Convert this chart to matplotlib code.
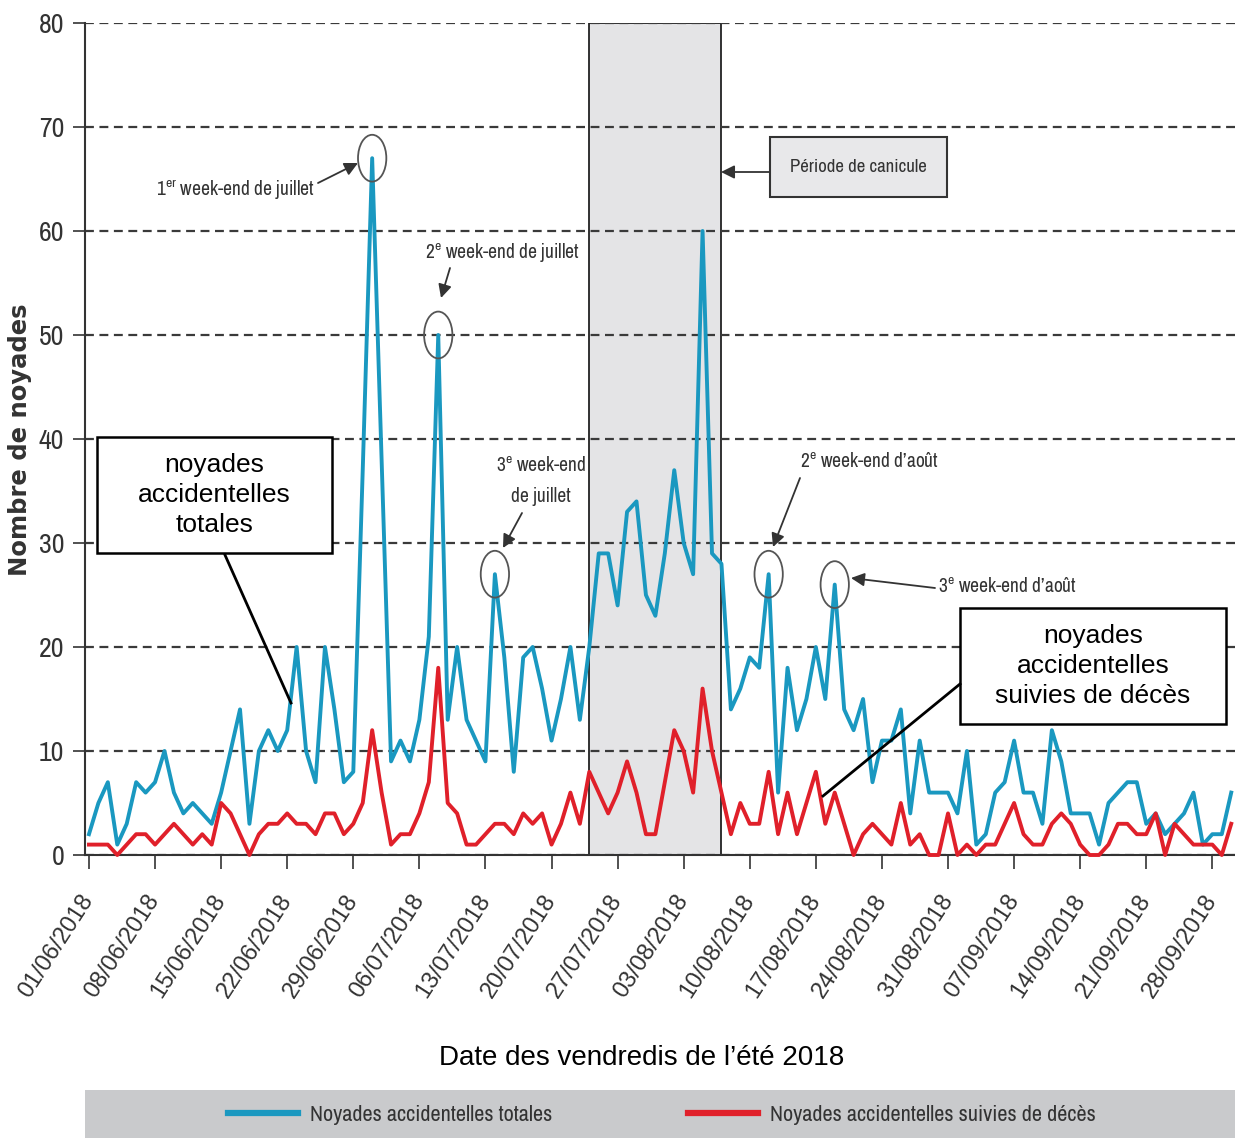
import matplotlib
matplotlib.use('Agg')
import matplotlib.pyplot as plt
import matplotlib.dates as mdates
from matplotlib.patches import Ellipse, Rectangle
from matplotlib.lines import Line2D
from matplotlib import font_manager
import pandas as pd

# données : une valeur par jour, du 01/06 au 30/09/2018
totales = [2, 5, 7, 1, 3, 7, 6, 7, 10, 6,
           4, 5, 4, 3, 6, 10, 14, 3, 10, 12,
           10, 12, 20, 10, 7, 20, 14, 7, 8, 37,
           67, 38, 9, 11, 9, 13, 21, 50, 13, 20,
           13, 11, 9, 27, 19, 8, 19, 20, 16, 11,
           15, 20, 13, 20, 29, 29, 24, 33, 34, 25,
           23, 29, 37, 30, 27, 60, 29, 28, 14, 16,
           19, 18, 27, 6, 18, 12, 15, 20, 15, 26,
           14, 12, 15, 7, 11, 11, 14, 4, 11, 6,
           6, 6, 4, 10, 1, 2, 6, 7, 11, 6,
           6, 3, 12, 9, 4, 4, 4, 1, 5, 6,
           7, 7, 3, 4, 2, 3, 4, 6, 1, 2,
           2, 6]
deces = [1, 1, 1, 0, 1, 2, 2, 1, 2, 3,
         2, 1, 2, 1, 5, 4, 2, 0, 2, 3,
         3, 4, 3, 3, 2, 4, 4, 2, 3, 5,
         12, 6, 1, 2, 2, 4, 7, 18, 5, 4,
         1, 1, 2, 3, 3, 2, 4, 3, 4, 1,
         3, 6, 3, 8, 6, 4, 6, 9, 6, 2,
         2, 7, 12, 10, 6, 16, 10, 6, 2, 5,
         3, 3, 8, 2, 6, 2, 5, 8, 3, 6,
         3, 0, 2, 3, 2, 1, 5, 1, 2, 0,
         0, 4, 0, 1, 0, 1, 1, 3, 5, 2,
         1, 1, 3, 4, 3, 1, 0, 0, 1, 3,
         3, 2, 2, 4, 0, 3, 2, 1, 1, 1,
         0, 3]
canicule = ['2018-07-24', '2018-08-07']
week_ends = ['2018-07-01', '2018-07-08', '2018-07-14', '2018-08-12', '2018-08-19']

jours = pd.date_range('2018-06-01', periods=len(totales), freq='D')
vendredis = pd.date_range('2018-06-01', '2018-09-28', freq='7D')

# police étroite si disponible
noms = {f.name for f in font_manager.fontManager.ttflist}
etroit = 'Liberation Sans'
for n in ['Archivo Narrow', 'Liberation Sans Narrow', 'Asap Condensed']:
    if n in noms:
        etroit = n
        break
plt.rcParams['font.family'] = ['Liberation Sans', 'DejaVu Sans']
plt.rcParams['mathtext.fontset'] = 'custom'
plt.rcParams['mathtext.rm'] = etroit

W, H = 1235, 1138
fig = plt.figure(figsize=(W / 100, H / 100), dpi=100)
ax = fig.add_axes([85 / W, 1 - 855 / H, 1150 / W, 832 / H])

def fx(px):
    return px / W

def fy(py):
    return 1 - py / H

def P(px, py):
    return (px, H - py)

bleu = '#1a98c0'
rouge = '#e0202a'
gris = '#333333'

ax.axvspan(pd.Timestamp(canicule[0]), pd.Timestamp(canicule[1]), facecolor='#e4e4e6',
           edgecolor='#222222', lw=1.3, zorder=1)
l1, = ax.plot(jours, totales, color=bleu, lw=2.8, zorder=3, clip_on=False,
              label='Noyades accidentelles totales')
l2, = ax.plot(jours, deces, color=rouge, lw=2.8, zorder=3, clip_on=False,
              label='Noyades accidentelles suivies de décès')

# cercles autour des pics de week-end
for d in week_ends:
    i = list(jours).index(pd.Timestamp(d))
    ax.add_patch(Ellipse((mdates.date2num(jours[i]), totales[i]), width=3.0, height=4.5,
                         fill=False, edgecolor='#555555', lw=1.3, zorder=4))

debut = mdates.date2num(jours[0])
ax.set_xlim(debut - 0.42, debut + 121.4)
ax.set_ylim(0, 80)
ax.set_yticks(range(0, 81, 10))
ax.set_xticks(vendredis)
ax.xaxis.set_major_formatter(mdates.DateFormatter('%d/%m/%Y'))
for lab in ax.get_xticklabels():
    lab.set_rotation(57)
    lab.set_ha('right')
    lab.set_va('center')
    lab.set_rotation_mode('anchor')
ax.tick_params(axis='x', length=10, width=1.2, color=gris, labelsize=17, labelcolor=gris, pad=20)
ax.tick_params(axis='y', length=9, width=1.2, color=gris, labelsize=20, labelcolor=gris, pad=6)
for lab in ax.get_yticklabels():
    lab.set_family([etroit, 'DejaVu Sans'])

ax.set_axisbelow('line')
ax.yaxis.grid(True, color='#3a3a3a', lw=1.6, linestyle=(0, (4, 2.5)))
ax.spines['top'].set_visible(False)
ax.spines['right'].set_visible(False)
ax.spines['left'].set_color(gris)
ax.spines['bottom'].set_color(gris)
ax.spines['left'].set_linewidth(1.5)
ax.spines['bottom'].set_linewidth(1.5)
ax.set_facecolor('none')

fig.text(fx(20), fy(440), 'Nombre de noyades', rotation=90, ha='center', va='center',
         fontsize=17.5, fontweight='bold', family=['DejaVu Sans'], color=gris)
fig.text(fx(642), fy(1058), 'Date des vendredis de l\u2019été 2018', ha='center', va='center',
         fontsize=20, color='black')

# annotations week-ends
ann = dict(fontsize=14, color=gris, family=[etroit, 'DejaVu Sans'], va='center')
fleche = dict(arrowstyle='-|>', color=gris, lw=1.3, mutation_scale=20, shrinkA=0, shrinkB=0)
fig.text(fx(315), fy(190), '1$^{\\mathrm{er}}$ week-end de juillet', ha='right', **ann)
fig.text(fx(425), fy(253), '2$^{\\mathrm{e}}$ week-end de juillet', ha='left', **ann)
fig.text(fx(541), fy(481), '3$^{\\mathrm{e}}$ week-end\nde juillet', ha='center',
         multialignment='center', linespacing=1.75, **ann)
fig.text(fx(800), fy(462), '2$^{\\mathrm{e}}$ week-end d\u2019août', ha='left', **ann)
fig.text(fx(938), fy(587), '3$^{\\mathrm{e}}$ week-end d\u2019août', ha='left', **ann)
for a, b in [((318, 183), (358, 163)), ((450, 268), (441, 298)), ((522, 513), (503, 548)),
             ((800, 478), (773, 547)), ((935, 588), (851, 578)), ((770, 172), (721, 172))]:
    ax.annotate('', xy=P(*b), xycoords='figure pixels', xytext=P(*a),
                textcoords='figure pixels', arrowprops=fleche, zorder=5)

# encadré période de canicule
fig.add_artist(Rectangle((fx(770), fy(197)), (947 - 770) / W, (197 - 137) / H,
                         transform=fig.transFigure, facecolor='#e8e8ea', edgecolor=gris, lw=1.5))
fig.text(fx(858), fy(167), 'Période de canicule', ha='center', va='center', fontsize=13.5,
         color=gris, family=[etroit, 'DejaVu Sans'])

# encadrés explicatifs
for (x0, y0, x1, y1), txt, (a, b) in [
        ((97, 437, 332, 553), 'noyades\naccidentelles\ntotales', ((225, 555), (291, 703))),
        ((960, 608, 1226, 724), 'noyades\naccidentelles\nsuivies de décès', ((960, 684), (823, 796)))]:
    fig.add_artist(Rectangle((fx(x0), fy(y1)), (x1 - x0) / W, (y1 - y0) / H,
                             transform=fig.transFigure, facecolor='white', edgecolor='black', lw=1.8))
    fig.text(fx((x0 + x1) / 2), fy((y0 + y1) / 2), txt, ha='center', va='center',
             fontsize=19, linespacing=1.3, color='black')
    fig.add_artist(Line2D([fx(a[0]), fx(b[0])], [fy(a[1]), fy(b[1])],
                          transform=fig.transFigure, color='black', lw=2))

# bandeau de légende
fig.add_artist(Rectangle((fx(85), 0), 1150 / W, (1138 - 1090) / H, transform=fig.transFigure,
                         facecolor='#c9cacc', edgecolor='none'))
leg = fig.legend(handles=[l1, l2], loc='center left', bbox_to_anchor=(fx(228), fy(1115)),
                 ncol=2, frameon=False, prop={'family': [etroit, 'DejaVu Sans'], 'size': 16},
                 borderpad=0, borderaxespad=0, handlelength=3.15, handletextpad=0.55,
                 columnspacing=6.1)
for t in leg.get_texts():
    t.set_color(gris)
for h in leg.legend_handles:
    h.set_linewidth(4.5)

fig.savefig('out.png', dpi=100)
